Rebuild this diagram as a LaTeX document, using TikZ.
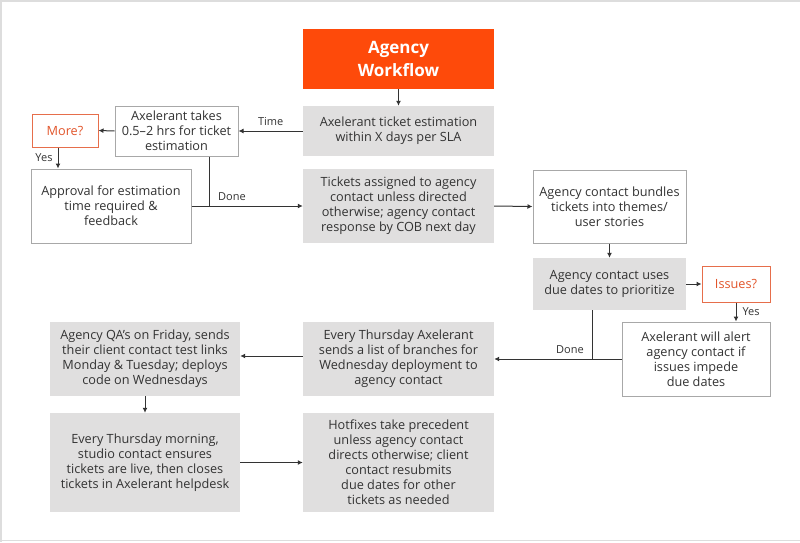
\documentclass[tikz,border=0pt]{standalone}
\usepackage{fontspec}
\setmainfont{Open Sans}
\usetikzlibrary{arrows.meta,calc}
\definecolor{orng}{HTML}{FE4A0A}
\definecolor{boxgray}{HTML}{E0DFDF}
\definecolor{edgegray}{HTML}{A8A8A8}
\definecolor{txt}{HTML}{333333}
\definecolor{qtxt}{HTML}{E2552B}
\definecolor{framegray}{HTML}{DDDDDD}
\begin{document}
\begin{tikzpicture}[x=1pt,y=-1pt,
 base/.style={inner sep=0pt, align=center, text=txt, font=\fontsize{12.7}{15}\selectfont},
 sz/.style 2 args={minimum width=#1, minimum height=#2},
 graybox/.style={base, fill=boxgray},
 whitebox/.style={base, draw=edgegray, line width=1pt, fill=white},
 qbox/.style={base, draw=qtxt!85, line width=1pt, fill=white, text=qtxt},
 titlebox/.style={base, fill=orng, text=white, font=\fontsize{17}{23}\bfseries\selectfont},
 arr/.style={draw=txt, line width=1pt, -{Latex[length=5pt,width=5pt]}},
 ln/.style={draw=txt, line width=1pt},
 lbl/.style={text=txt, font=\fontsize{11}{13}\selectfont, inner sep=0pt}]
\useasboundingbox (0,0) rectangle (800,542);
\draw[framegray, line width=1.5pt] (0,0.75) -- (800,0.75);
\draw[framegray, line width=1.5pt] (0.75,0) -- (0.75,542);
\draw[framegray, line width=1.5pt] (0,540.5) -- (800,540.5);

\node[titlebox, sz={191}{60}] (title) at (398.5,59) {Agency\\Workflow};
\node[graybox, sz={191}{50}] (est) at (398.5,131) {Axelerant ticket estimation\\within X days per SLA};
\node[whitebox, sz={123}{50}] (takes) at (176.5,131) {Axelerant takes\\0.5–2 hrs for ticket\\estimation};
\node[qbox, sz={66}{33}] (more) at (65,130.5) {More?};
\node[whitebox, sz={160}{74}] (approval) at (111,206) {Approval for estimation\\time required \&\\feedback};
\node[graybox, sz={191}{74}] (assigned) at (398.5,206) {Tickets assigned to agency\\contact unless directed\\otherwise; agency contact\\response by COB next day};
\node[whitebox, sz={153}{73}] (bundle) at (609.5,206.5) {Agency contact bundles\\tickets into themes/\\user stories};
\node[graybox, sz={153}{52}] (uses) at (609.5,284) {Agency contact uses\\due dates to prioritize};
\node[qbox, sz={68}{36}] (issues) at (736,284) {Issues?};
\node[whitebox, sz={148}{74}] (alert) at (696,359) {Axelerant will alert\\agency contact if\\issues impede\\due dates};
\node[graybox, sz={191}{74}] (thursday) at (398.5,359) {Every Thursday Axelerant\\sends a list of branches for\\Wednesday deployment to\\agency contact};
\node[graybox, sz={190}{74}] (qa) at (145,359) {Agency QA’s on Friday, sends\\their client contact test links\\Monday \& Tuesday; deploys\\code on Wednesdays};
\node[graybox, sz={190}{99}] (morning) at (145,462.5) {Every Thursday morning,\\studio contact ensures\\tickets are live, then closes\\tickets in Axelerant helpdesk};
\node[graybox, sz={191}{99}] (hotfix) at (398.5,462.5) {Hotfixes take precedent\\unless agency contact\\directs otherwise; client\\contact resubmits\\due dates for other\\tickets as needed};

\draw[arr] (title.south) -- (est.north);
\draw[arr] (est.west) -- node[lbl, above=5pt] (tlbl) {Time} (takes.east);
\draw[arr] (takes.west) -- (more.east);
\draw[arr] ([xshift=-7]more.south) -- ([xshift=-7]more.south |- approval.north)
  node[lbl, pos=0.5, left=5pt] (ylbl1) {Yes};
\coordinate (j1) at ([xshift=32.5]takes.south |- approval.east);
\draw[ln] ([xshift=32.5]takes.south) -- (j1);
\draw[arr] (approval.east) -- (assigned.west);
\node[lbl] (dlbl1) at (232,197) {Done};
\draw[arr] (assigned.east) -- (bundle.west);
\draw[arr] (bundle.south) -- (uses.north);
\draw[arr] (uses.east) -- (issues.west);
\draw[arr] (issues.south) -- (issues.south |- alert.north)
  node[lbl, pos=0.5, right=6pt] (ylbl2) {Yes};
\coordinate (j2) at ([xshift=-17.5]uses.south |- alert.west);
\draw[ln] ([xshift=-17.5]uses.south) -- (j2);
\draw[arr] (alert.west) -- (thursday.east);
\node[lbl] (dlbl2) at (570,350) {Done};
\draw[arr] ([yshift=3]thursday.west) -- ([yshift=3]qa.east);
\draw[arr] (qa.south) -- (morning.north);
\draw[arr] (morning.east) -- (hotfix.west);
\end{tikzpicture}
\end{document}
